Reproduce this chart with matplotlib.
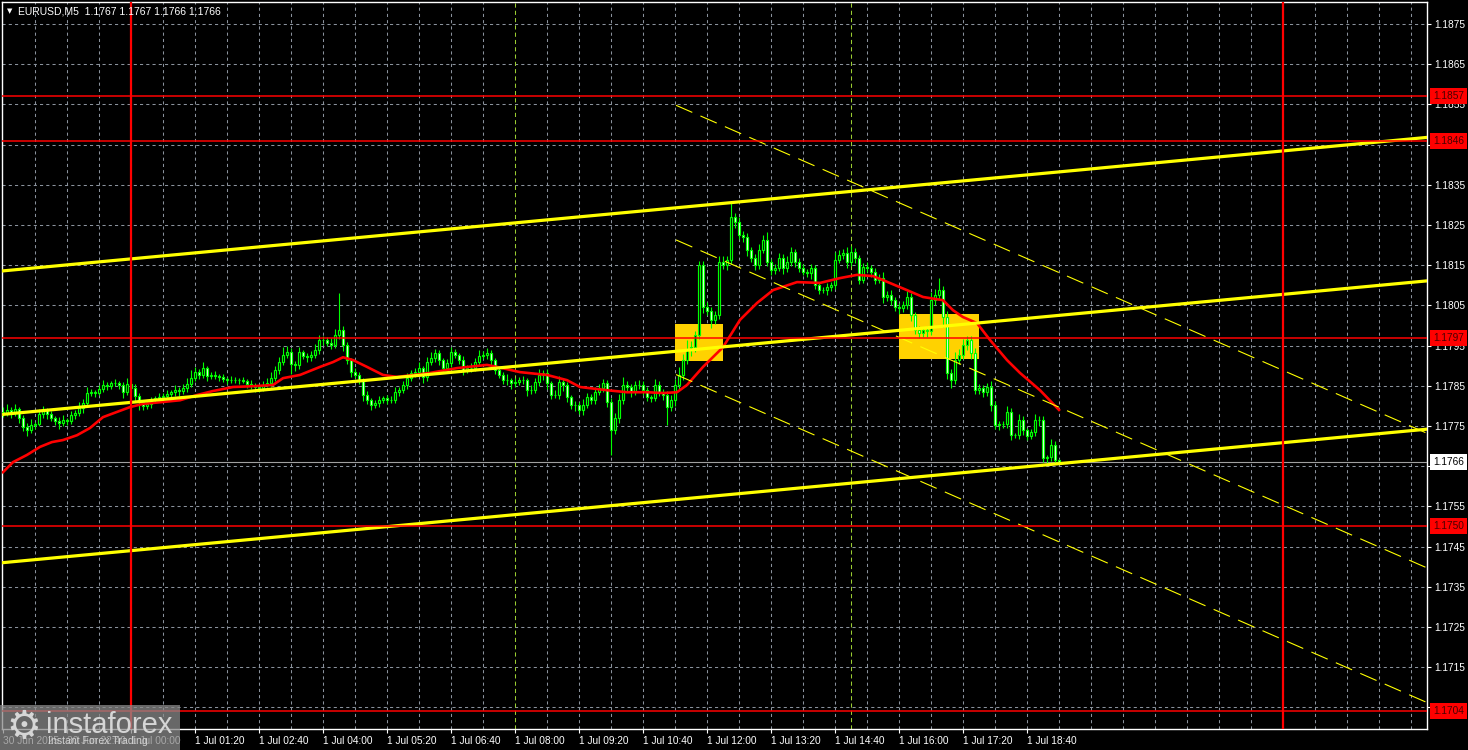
import matplotlib
matplotlib.use('Agg')
import matplotlib.pyplot as plt
import numpy as np
from matplotlib.patches import Rectangle

plt.rcParams['font.family'] = ['Liberation Sans', 'DejaVu Sans']

# EURUSD M5, prices in pips above 1.1700, one value per 5-minute bar
BASE = 1.1700
first_open = 78.6
close_pips = [
    78.2, 79.0, 78.5, 79.2, 77.0, 74.8, 74.0, 75.2, 75.5, 78.0, 79.0, 78.0, 77.0, 76.2, 75.7, 76.5, 76.2, 77.7, 78.2, 79.5,
    80.7, 83.2, 83.4, 83.2, 84.2, 85.2, 84.9, 85.7, 85.7, 85.2, 83.4, 85.4, 84.4, 82.4, 80.9, 80.0, 80.5, 81.4, 81.9, 82.2,
    82.4, 82.9, 83.4, 83.9, 83.7, 84.4, 85.4, 86.9, 88.4, 87.7, 89.4, 87.4, 87.7, 87.4, 87.2, 86.7, 86.4, 86.4, 86.4, 86.4,
    86.2, 85.4, 84.9, 84.7, 84.4, 85.2, 85.7, 86.9, 88.9, 90.9, 92.6, 93.4, 90.4, 90.2, 93.4, 92.4, 92.1, 92.6, 93.9, 96.4,
    96.4, 95.6, 95.1, 97.6, 98.9, 95.1, 91.4, 88.4, 87.7, 86.4, 82.7, 81.4, 80.2, 80.7, 81.4, 81.9, 81.4, 81.4, 83.4, 83.9,
    85.2, 86.9, 88.2, 88.4, 89.4, 87.2, 90.9, 91.9, 93.2, 91.4, 89.4, 90.7, 93.4, 92.6, 91.4, 88.9, 89.4, 89.4, 90.9, 92.4,
    92.6, 93.2, 91.4, 88.9, 87.7, 86.4, 86.4, 85.7, 85.9, 86.4, 86.4, 83.9, 83.9, 85.9, 87.7, 88.2, 85.7, 82.7, 82.7, 85.9,
    85.2, 82.2, 80.2, 80.2, 79.0, 80.2, 82.2, 81.4, 83.4, 84.4, 85.7, 80.9, 74.0, 77.0, 81.4, 85.2, 84.7, 83.4, 85.2, 85.2,
    83.9, 82.2, 81.9, 85.2, 83.4, 82.7, 79.7, 81.4, 85.2, 87.7, 91.4, 93.9, 94.6, 97.6, 115.0, 104.6, 103.6, 101.4, 102.6, 115.8,
    115.0, 116.3, 127.0, 125.7, 122.5, 122.0, 118.8, 116.8, 115.0, 118.8, 121.3, 115.8, 113.8, 114.3, 116.8, 114.3, 115.8, 118.3, 115.8, 114.3,
    113.3, 113.1, 114.3, 110.1, 108.8, 108.8, 109.6, 110.1, 116.3, 117.6, 118.0, 115.8, 118.3, 116.8, 111.3, 114.5, 114.3, 113.3, 111.3, 111.8,
    107.1, 107.6, 106.3, 104.6, 104.3, 105.1, 107.1, 102.6, 98.9, 98.1, 98.9, 98.6, 106.3, 107.6, 108.8, 102.1, 88.2, 86.4, 91.4, 92.6,
    95.1, 96.4, 93.2, 83.9, 84.4, 83.4, 84.7, 80.2, 75.2, 75.5, 75.5, 78.5, 72.7, 72.7, 76.5, 74.0, 72.5, 73.5, 76.5, 76.5,
    67.0, 67.3, 70.2, 66.5, 66.0,
]
# wick lengths above/below the body, pips
up_wick = [
    1.0, 1.5, 0.8, 1.2, 0.5, 0.8, 1.0, 1.5, 0.6, 1.2, 1.0, 0.5, 0.8, 0.6, 1.0, 1.2, 0.5, 1.0, 0.8, 1.5,
    1.0, 1.5, 0.8, 0.6, 1.0, 1.2, 0.8, 0.5, 1.0, 0.6, 0.7, 1.5, 0.8, 1.0, 0.8, 0.6, 1.0, 0.8, 0.5, 1.0,
    0.8, 1.0, 0.6, 1.2, 0.8, 1.0, 1.5, 2.0, 1.2, 0.8, 1.5, 0.6, 0.8, 1.0, 0.5, 0.8, 0.6, 1.0, 0.8, 0.6,
    0.8, 0.5, 1.0, 0.8, 0.6, 1.0, 1.2, 1.5, 1.0, 1.2, 2.0, 1.5, 1.0, 0.8, 1.2, 0.6, 0.8, 1.0, 1.5, 1.2,
    1.0, 0.8, 1.2, 1.5, 9.2, 1.0, 0.8, 0.6, 1.0, 0.8, 0.6, 1.0, 0.5, 0.8, 1.0, 0.6, 0.8, 1.0, 1.2, 0.8,
    1.0, 1.2, 0.8, 1.0, 1.5, 0.6, 1.2, 1.5, 1.0, 0.8, 0.6, 1.0, 1.2, 0.8, 0.6, 1.0, 0.8, 1.2, 1.0, 1.5,
    1.0, 1.2, 0.8, 0.6, 1.0, 0.8, 1.5, 0.6, 1.0, 0.8, 1.0, 0.6, 1.2, 1.0, 1.5, 0.8, 1.0, 0.6, 1.2, 1.5,
    1.0, 0.8, 0.6, 1.0, 0.8, 1.5, 1.0, 0.8, 1.2, 1.0, 1.0, 0.8, 1.0, 1.2, 1.5, 2.0, 1.0, 0.8, 1.0, 1.2,
    1.0, 0.8, 0.6, 1.5, 1.0, 0.8, 1.0, 1.2, 1.5, 2.0, 1.5, 2.5, 1.5, 1.0, 1.0, 1.0, 1.2, 1.0, 1.0, 1.5,
    1.5, 1.0, 3.5, 1.0, 1.2, 1.0, 1.0, 0.8, 1.0, 1.5, 1.2, 2.0, 0.8, 1.0, 1.2, 1.0, 1.5, 1.2, 0.8, 1.0,
    1.0, 0.8, 1.0, 0.8, 0.5, 0.8, 1.0, 0.8, 2.0, 1.2, 1.0, 1.5, 1.5, 1.0, 0.8, 1.0, 1.2, 0.8, 1.0, 1.0,
    1.5, 1.0, 1.2, 0.8, 1.0, 1.0, 1.5, 1.0, 0.8, 1.0, 0.8, 1.0, 2.0, 1.5, 3.0, 1.0, 1.5, 1.0, 2.0, 1.5,
    1.5, 1.0, 1.0, 1.2, 1.0, 0.8, 1.0, 1.5, 1.0, 0.8, 0.8, 1.5, 1.0, 0.6, 1.5, 1.0, 0.6, 0.8, 1.5, 1.0,
    1.0, 0.5, 1.5, 1.0, 0.3,
]
dn_wick = [
    1.0, 0.8, 1.5, 1.0, 1.2, 1.0, 1.5, 0.8, 1.0, 0.6, 1.0, 1.2, 0.8, 1.0, 1.5, 0.8, 1.0, 0.6, 1.0, 0.8,
    1.2, 1.0, 0.8, 1.0, 0.6, 0.8, 1.0, 0.6, 0.8, 1.0, 1.5, 0.8, 1.0, 1.2, 2.0, 1.0, 0.8, 1.0, 0.6, 0.8,
    1.0, 0.6, 0.8, 1.0, 1.2, 0.8, 1.0, 0.6, 0.8, 1.0, 0.8, 1.2, 0.6, 0.8, 1.0, 0.8, 1.0, 0.6, 0.8, 1.0,
    0.6, 1.0, 0.8, 1.2, 1.0, 0.8, 0.6, 1.0, 0.8, 1.0, 0.8, 0.6, 2.5, 1.5, 1.0, 0.8, 1.2, 1.0, 0.8, 1.0,
    1.2, 0.8, 1.0, 0.8, 1.0, 1.5, 1.0, 1.2, 0.8, 1.0, 1.5, 1.0, 1.2, 0.8, 1.0, 0.8, 1.0, 0.6, 0.8, 1.0,
    0.8, 1.0, 0.6, 1.0, 0.8, 1.5, 1.0, 0.8, 1.0, 1.2, 1.0, 0.8, 1.0, 0.6, 1.0, 1.2, 0.8, 1.0, 0.8, 1.0,
    0.8, 1.0, 1.2, 1.0, 0.8, 1.0, 1.2, 1.5, 1.0, 0.8, 1.0, 1.5, 1.0, 0.8, 1.0, 1.2, 1.5, 1.0, 0.8, 1.0,
    1.5, 1.2, 1.0, 1.5, 1.0, 1.2, 0.8, 1.0, 1.0, 0.8, 1.0, 1.2, 6.2, 1.0, 1.2, 1.0, 1.0, 1.2, 0.8, 1.0,
    1.2, 1.0, 1.0, 0.8, 1.0, 1.2, 4.5, 1.0, 1.5, 1.0, 1.2, 1.0, 1.5, 1.2, 1.0, 1.5, 1.0, 2.0, 1.0, 1.0,
    1.0, 1.2, 1.0, 1.5, 1.0, 1.2, 1.5, 1.0, 1.2, 1.0, 0.8, 1.0, 1.2, 1.0, 0.8, 1.5, 1.0, 1.0, 1.2, 1.0,
    0.8, 1.0, 1.5, 1.0, 1.0, 0.8, 1.2, 1.0, 1.0, 0.8, 1.0, 1.5, 1.0, 1.2, 1.0, 0.8, 1.0, 1.2, 1.0, 0.8,
    1.5, 1.0, 1.2, 1.0, 1.5, 1.0, 1.0, 1.5, 1.0, 1.2, 1.0, 1.5, 1.0, 1.2, 1.0, 2.5, 1.5, 2.0, 1.0, 1.0,
    1.0, 1.2, 1.5, 1.0, 1.0, 1.2, 1.0, 1.5, 1.0, 1.2, 1.0, 1.0, 1.2, 0.8, 1.0, 1.2, 1.0, 0.8, 1.0, 1.5,
    1.0, 1.2, 1.0, 1.0, 0.5,
]

# moving average at sample bars
ma_bars = [0, 2.5, 6, 9.25, 12.25, 15, 18.5, 21.75, 25, 28.5, 31.75, 35, 39.25, 44.25, 48.5, 52.5,
           57.5, 62.5, 67.5, 70, 74.25, 79.25, 82.5, 85, 87.5, 91, 95, 98.5, 106.75, 113.5, 121, 123.5,
           129.25, 136, 141, 144.25, 151, 156, 161, 165, 168.5, 171, 175, 180, 184.25, 188.5, 192.5, 198.5,
           204.25, 209.25, 213.5, 217.5, 220, 226, 230, 235, 237.5, 240, 243.5, 246.75, 251, 254.25, 259.25, 264]
ma_pips = [63.5, 66.0, 67.8, 69.8, 71.0, 71.5, 72.7, 74.5, 77.2, 78.5, 79.7, 80.5, 80.9, 81.4, 82.7, 83.7,
           84.7, 84.9, 85.2, 86.9, 87.7, 89.7, 90.9, 92.1, 91.4, 89.7, 87.7, 87.2, 88.2, 89.4, 90.2, 89.7,
           88.4, 87.7, 86.4, 84.7, 83.9, 83.4, 83.4, 83.2, 83.4, 85.2, 89.7, 94.6, 101.4, 105.6, 108.8, 110.8,
           110.6, 111.8, 112.6, 112.3, 111.3, 108.8, 107.1, 106.3, 103.8, 102.1, 100.6, 96.4, 91.4, 88.2, 83.9, 79.0]

levels = [1.1857, 1.1846, 1.1797, 1.1750, 1.1704]
day_lines = [32, 320]
news_lines = [128, 212]
last_price = 1.1766
symbol = 'EURUSD,M5'
last_ohlc = ['1.1767', '1.1767', '1.1766', '1.1766']

# rising channel (solid) and falling channel (dashed), pips at two bars
chan_bars = [-1, 357]
chan_upper = [113.5, 146.9]
chan_mid = [77.8, 111.2]
chan_low = [40.9, 74.3]
down_bars = [168.25, 357]
down_upper = [154.8, 72.75]
down_mid = [121.3, 39.25]
down_low = [87.8, 5.75]

# signal boxes: bar from, bar to, low pips, high pips
boxes = [(168, 180, 91.15, 100.36), (224, 244, 91.65, 102.85)]

time_ticks = list(range(0, 257, 16))
time_labels = ['30 Jun 2025', '30 Jun 22:40', '1 Jul 00:00', '1 Jul 01:20', '1 Jul 02:40', '1 Jul 04:00',
               '1 Jul 05:20', '1 Jul 06:40', '1 Jul 08:00', '1 Jul 09:20', '1 Jul 10:40', '1 Jul 12:00',
               '1 Jul 13:20', '1 Jul 14:40', '1 Jul 16:00', '1 Jul 17:20', '1 Jul 18:40']
price_ticks = [1.1705 + 0.001 * k for k in range(18)]

p = lambda v: BASE + np.asarray(v) / 10000.0

closes = p(close_pips)
opens = np.concatenate([[p(first_open)], closes[:-1]])
highs = np.maximum(opens, closes) + np.array(up_wick) / 10000.0
lows = np.minimum(opens, closes) - np.array(dn_wick) / 10000.0
xb = np.arange(len(closes))

fig = plt.figure(figsize=(14.68, 7.5), dpi=100, facecolor='black')
ax = fig.add_axes([2 / 1468, 21 / 750, 1425 / 1468, 727 / 750], facecolor='black')
ax.set_xlim(-0.25, 356)
ax.set_ylim(1.16996, 1.18805)

grid_kw = dict(color='#8a929c', lw=0.75, dashes=(3, 3), zorder=1)
for gx in range(8, 356, 8):
    if gx in news_lines:
        continue
    ax.axvline(gx, **grid_kw)
for gy in price_ticks:
    ax.axhline(gy, **grid_kw)
for nx in news_lines:
    ax.axvline(nx, color='#9acd32', lw=0.75, dashes=(4, 3), zorder=1)

for b0, b1, lo, hi in boxes:
    ax.add_patch(Rectangle((b0, p(lo)), b1 - b0, p(hi) - p(lo), facecolor='#ffd200',
                           edgecolor='none', zorder=2))

# candles
ax.vlines(xb, lows, highs, color='#00ff00', lw=0.8, zorder=4)
bull = closes >= opens
body_lo = np.minimum(opens, closes)
body_h = np.abs(closes - opens)
ax.bar(xb[bull], body_h[bull], bottom=body_lo[bull], width=0.62, color='black',
       edgecolor='#00ff00', linewidth=0.85, zorder=5)
ax.bar(xb[~bull], body_h[~bull], bottom=body_lo[~bull], width=0.62, color='white',
       edgecolor='#00ff00', linewidth=0.85, zorder=5)

ax.plot(ma_bars, p(ma_pips), color='#ff0000', lw=1.9, zorder=6)

for line in (chan_upper, chan_mid, chan_low):
    ax.plot(chan_bars, p(line), color='#ffff00', lw=2.3, zorder=7, solid_capstyle='butt')
for line in (down_upper, down_mid, down_low):
    ax.plot(down_bars, p(line), color='#ffff00', lw=0.8, dashes=(16, 8), zorder=7)

for lv in levels:
    ax.axhline(lv, color='#ff0000', lw=1.1, zorder=8)
for dx in day_lines:
    ax.axvline(dx, color='#ff0000', lw=1.6, zorder=8)
ax.axhline(last_price, color='#a0a0a0', lw=0.8, zorder=3)

for s in ax.spines.values():
    s.set_color('white')
    s.set_linewidth(1.0)

ax.yaxis.tick_right()
ax.set_yticks(price_ticks)
ax.set_yticklabels([f'{v:.4f}' for v in price_ticks])
ax.set_xticks(time_ticks)
ax.set_xticklabels(time_labels, ha='left')
ax.tick_params(colors='white', labelsize=7.3, length=3, width=0.8, pad=2)

lab_kw = dict(transform=ax.get_yaxis_transform(), va='center', ha='left', fontsize=7.3,
              clip_on=False, zorder=20)
for lv in levels:
    ax.text(1.0042, lv, f'{lv:.4f}', color='#4a0000',
            bbox=dict(boxstyle='square,pad=0.3', fc='#ff0000', ec='none'), **lab_kw)
ax.text(1.0042, last_price, f'{last_price:.4f}', color='black',
        bbox=dict(boxstyle='square,pad=0.3', fc='white', ec='none'), **lab_kw)

# title and watermark in pixel coordinates
ov = fig.add_axes([0, 0, 1, 1], zorder=10)
ov.set_xlim(0, 1468)
ov.set_ylim(750, 0)
ov.axis('off')
ov.patch.set_alpha(0)
ov.text(10, 11, '\u25bc', color='white', fontsize=5, ha='center', va='center', family='DejaVu Sans')
ov.text(18, 11, symbol + '  ' + ' '.join(last_ohlc), color='white', fontsize=7.5, va='center')

ov.add_patch(Rectangle((0, 705), 180, 45, facecolor='#8a8a8a', alpha=0.75, edgecolor='none'))
ov.text(24, 727, '\u2699', color='#d6d6d6', fontsize=28, ha='center', va='center', family='DejaVu Sans')
ov.text(46, 733, 'instaforex', color='#d6d6d6', fontsize=21, ha='left', va='baseline')
ov.text(48, 741, 'Instant Forex Trading', color='#d0d0d0', fontsize=7.6, ha='left', va='center')

fig.savefig('out.png', dpi=100, facecolor='black')
